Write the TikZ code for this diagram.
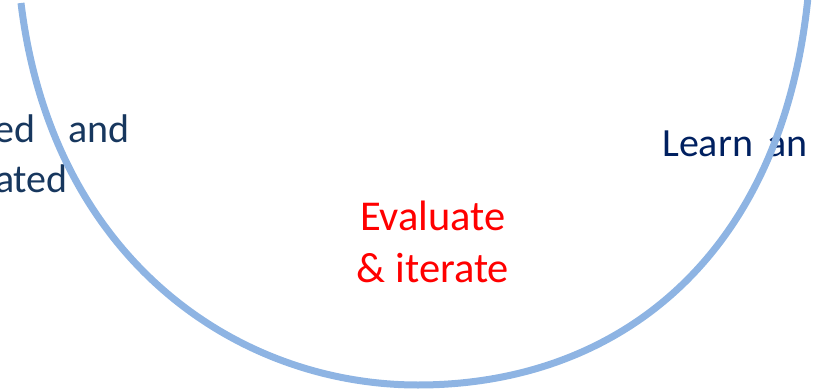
\documentclass[tikz,border=0pt]{standalone}
\usepackage{fontspec}
\setmainfont{Carlito}
\definecolor{arcblue}{HTML}{8EB4E3}
\definecolor{slatenavy}{HTML}{17375E}
\definecolor{navy}{HTML}{002060}
\begin{document}
\begin{tikzpicture}[x=1pt,y=1pt,
  lbl/.style={inner sep=0pt,font=\fontsize{40}{52}\selectfont},
  biglbl/.style={inner sep=0pt,font=\fontsize{42.5}{52}\selectfont},
  arcline/.style={draw=arcblue,line width=7pt}]
\useasboundingbox (0,0) rectangle (813,-390);
\clip (0,0) rectangle (813,-390);
\node[lbl,text=slatenavy,anchor=base east] (l1) at (130,-143) {ed\hspace{33pt}and};
\node[lbl,text=slatenavy,anchor=base east] (l2) at (68,-193) {ated};
\node[lbl,text=navy,anchor=base west] (r1) at (662,-157) {Learn\hspace{14pt}an};
\node[biglbl,text=red,anchor=base] (e1) at (433,-230) {Evaluate};
\node[biglbl,text=red,anchor=base] (e2) at (433,-282) {\& iterate};
\coordinate (top left) at (21,-3);
\coordinate (bottom) at (418,-385);
\coordinate (top right) at (808,3);
\draw[arcline] (top left) .. controls (52,-260) and (238,-385) .. (bottom)
  .. controls (618,-385) and (782,-257) .. (top right);
\end{tikzpicture}
\end{document}
